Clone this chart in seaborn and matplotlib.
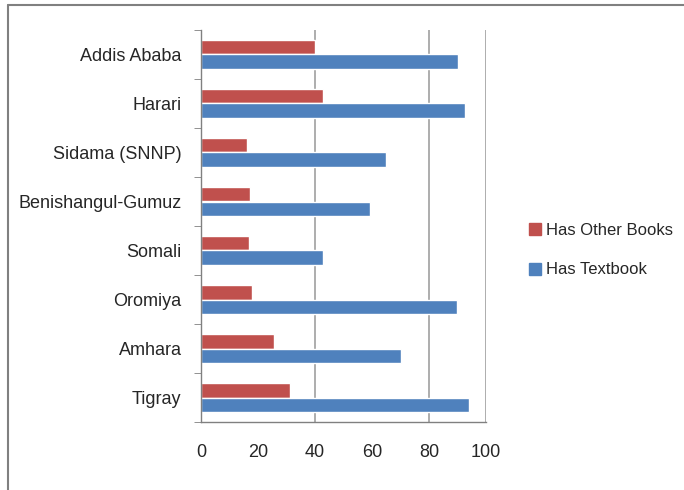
import pandas as pd
import matplotlib
matplotlib.use('Agg')
import matplotlib.pyplot as plt
import seaborn as sns
from matplotlib.lines import Line2D

regions = ['Addis Ababa', 'Harari', 'Sidama (SNNP)', 'Benishangul-Gumuz',
           'Somali', 'Oromiya', 'Amhara', 'Tigray']
other_books = [40, 42.8, 16, 17.2, 16.8, 18, 25.6, 31.3]
textbook = [90, 92.7, 65, 59.4, 42.8, 89.7, 70.2, 94]
series = ['Has Other Books', 'Has Textbook']
colors = ['#C0504D', '#4F81BD']
x_ticks = [0, 20, 40, 60, 80, 100]

df = pd.DataFrame({
    'region': regions * 2,
    'value': other_books + textbook,
    'series': [series[0]] * len(regions) + [series[1]] * len(regions),
})

sns.set_style('white')
plt.rcParams['font.family'] = ['Liberation Sans', 'DejaVu Sans']

fig = plt.figure(figsize=(6.84, 4.9), dpi=100)
ax = fig.add_axes([201 / 684, 1 - 422 / 490, 285 / 684, 392 / 490])

sns.barplot(data=df, y='region', x='value', hue='series', hue_order=series,
            order=regions, palette=colors, orient='h', width=0.58,
            saturation=1, ax=ax, legend=False)

ax.set_xlim(0, 100)
ax.set_ylim(len(regions) - 0.5, -0.5)
ax.set_xlabel('')
ax.set_ylabel('')

# tick labels every 20, tick marks / gridlines Excel-style
ax.set_xticks(x_ticks)
ax.set_xticklabels([str(t) for t in x_ticks], fontsize=13)
ax.tick_params(axis='x', which='major', length=0, pad=16)
ax.set_xticks([0, 40, 80, 100], minor=True)
ax.tick_params(axis='x', which='minor', length=5, color='#808080', direction='out', bottom=True)
ax.grid(False)
for g in [40, 80, 100]:
    ax.axvline(g, color='#A0A0A0', lw=1.2, zorder=0)

ax.set_yticks(range(len(regions)))
ax.set_yticklabels(regions, fontsize=13)
ax.tick_params(axis='y', which='major', length=0, pad=14)
ax.set_yticks([i - 0.5 for i in range(len(regions) + 1)], minor=True)
ax.tick_params(axis='y', which='minor', length=5, color='#808080', direction='out', left=True)

for s in ['top', 'right']:
    ax.spines[s].set_visible(False)
for s in ['left', 'bottom']:
    ax.spines[s].set_color('#808080')
    ax.spines[s].set_linewidth(1)

handles = [Line2D([0], [0], marker='s', linestyle='', markersize=9,
                  markerfacecolor=c, markeredgecolor=c) for c in colors]
fig.legend(handles, series, loc='center left', bbox_to_anchor=(529 / 684, 1 - 250 / 490),
           frameon=False, fontsize=12, labelspacing=1.5, handletextpad=0.3,
           handlelength=0.75, borderpad=0, borderaxespad=0)

# outer chart frame (top and left edges visible)
fig.add_artist(Line2D([7.5 / 684, 7.5 / 684], [0, 1 - 5.5 / 490],
                      transform=fig.transFigure, color='#808080', lw=1.5))
fig.add_artist(Line2D([7.5 / 684, 1], [1 - 5.5 / 490, 1 - 5.5 / 490],
                      transform=fig.transFigure, color='#808080', lw=1.5))

fig.savefig('out.png', dpi=100)
